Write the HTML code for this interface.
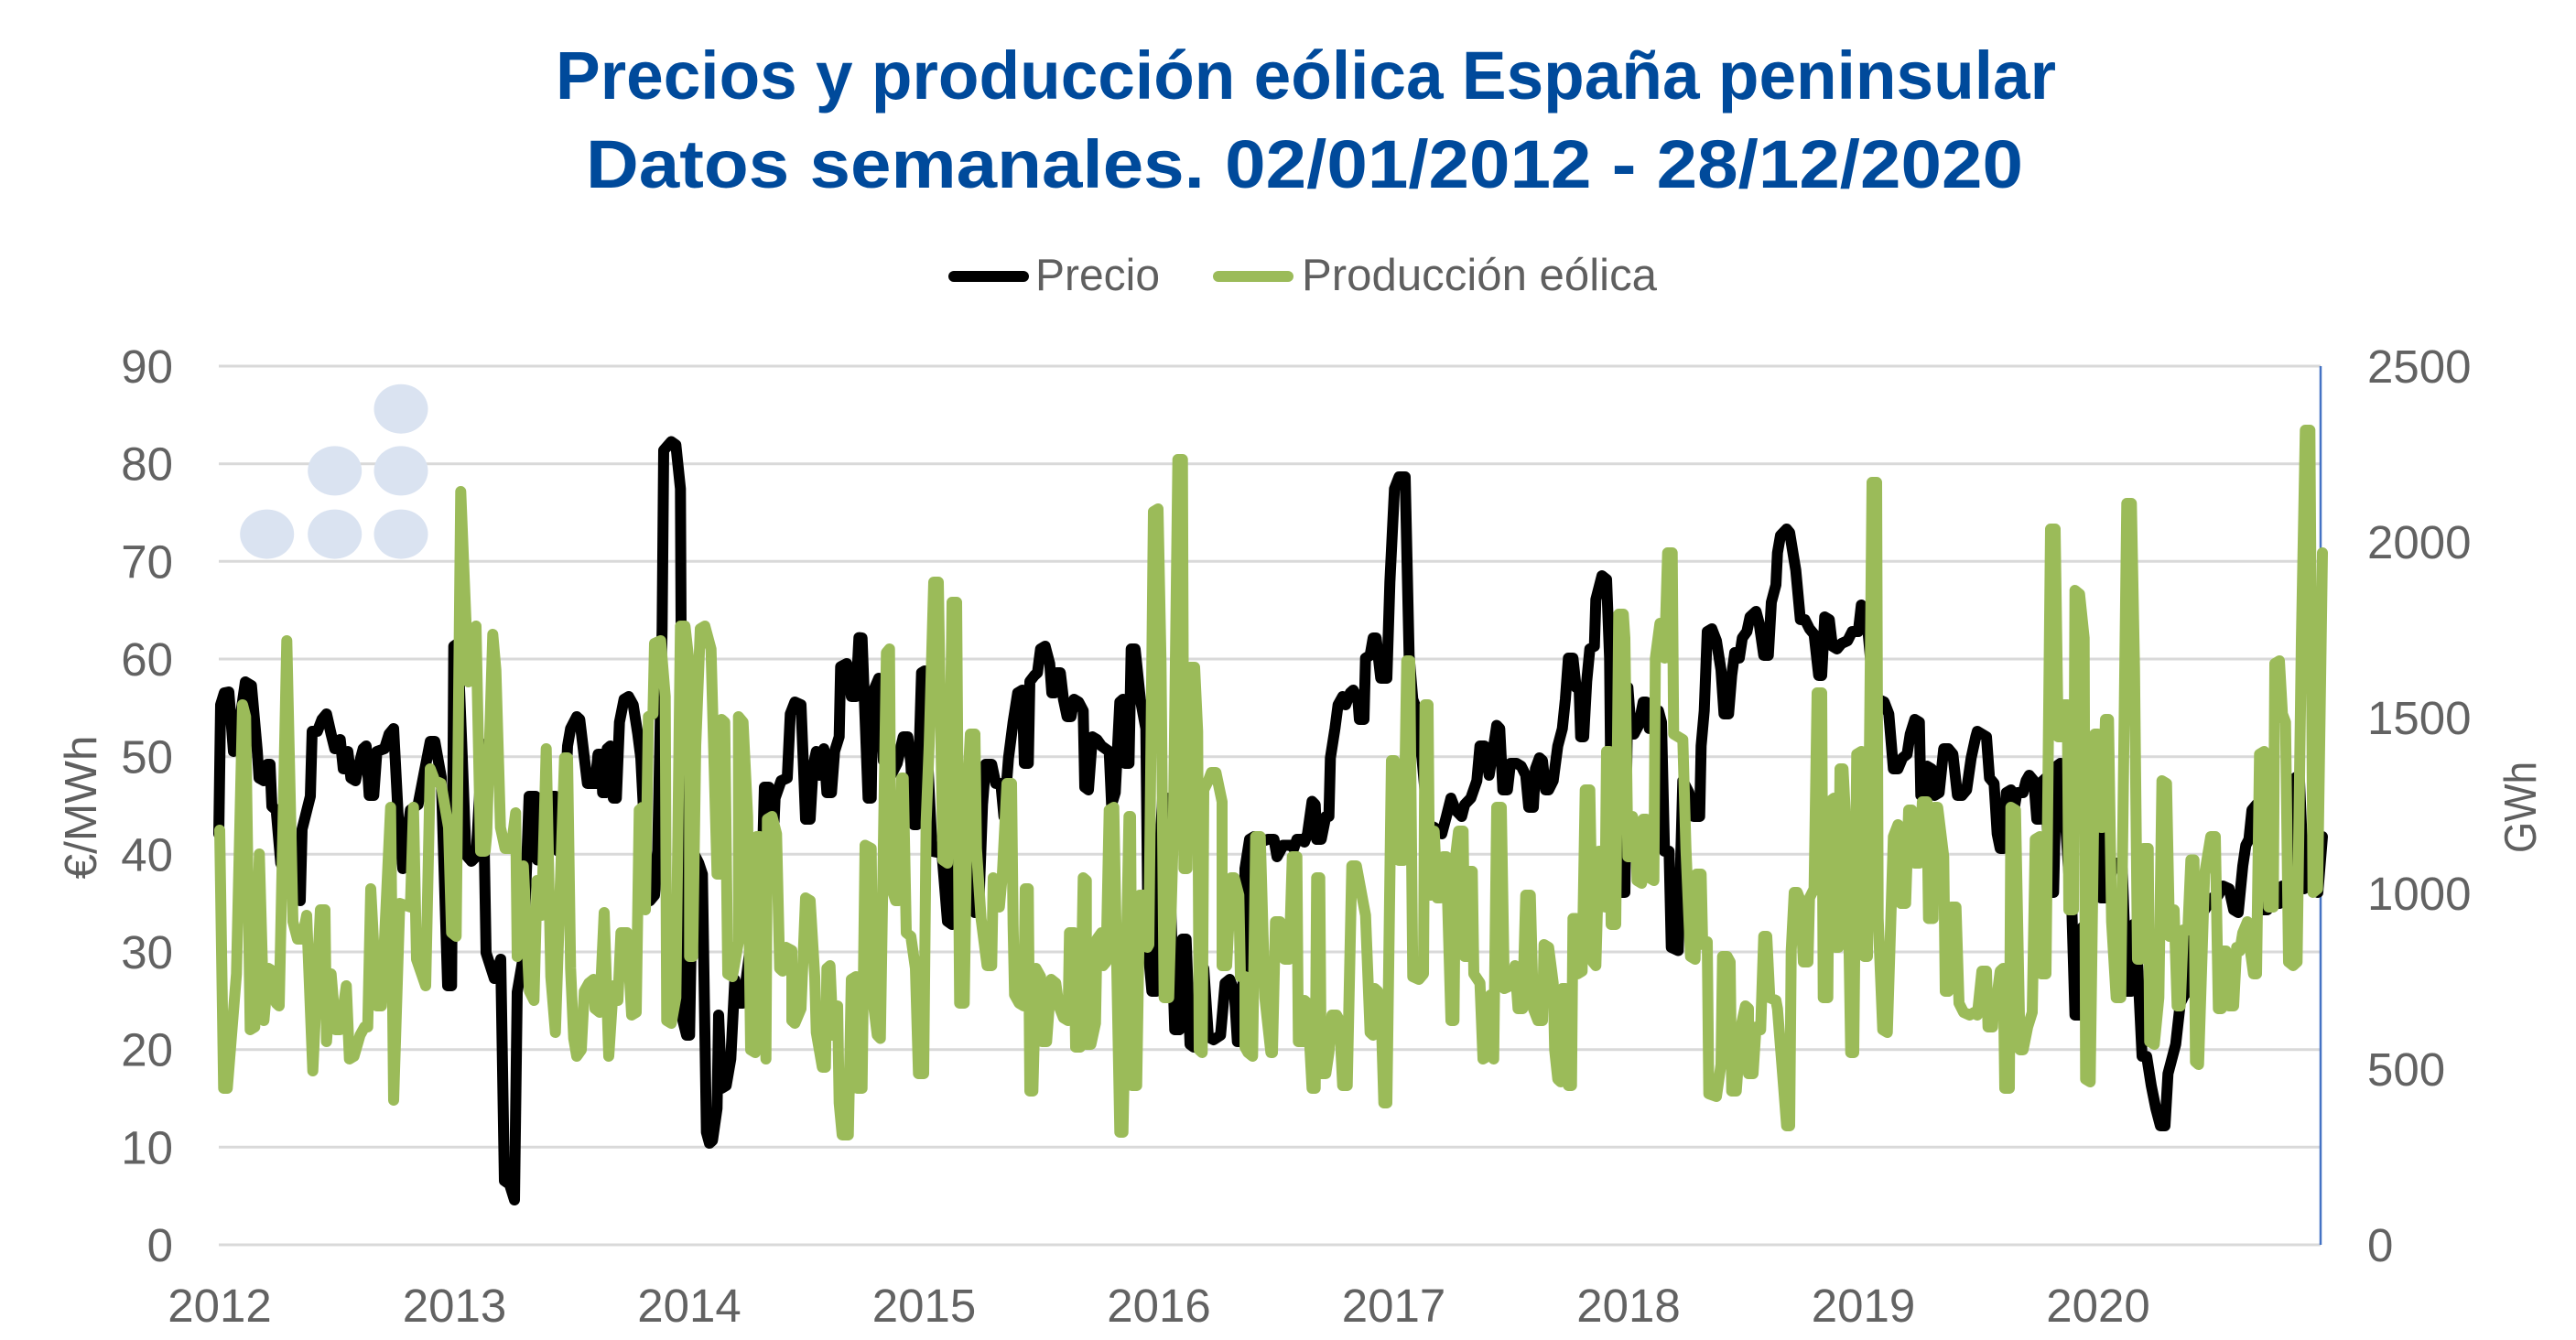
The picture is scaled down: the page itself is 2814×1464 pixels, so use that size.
<!DOCTYPE html>
<html>
<head>
<meta charset="utf-8">
<style>
  html, body { margin:0; padding:0; background:#ffffff; }
  svg { display:block; }
  .tick { font-family:"Liberation Sans", sans-serif; font-size:51px; fill:#626262; }
  .leg { font-family:"Liberation Sans", sans-serif; font-size:49px; fill:#5f5f5f; }
  .ttl { font-family:"Liberation Sans", sans-serif; font-size:74px; font-weight:bold; fill:#004a9b; }
  .blk { fill:none; stroke:#000000; stroke-width:12; stroke-linejoin:round; stroke-linecap:round; }
  .grn { fill:none; stroke:#9bbb59; stroke-width:12; stroke-linejoin:round; stroke-linecap:round; }
</style>
</head>
<body>
<svg width="2814" height="1464" viewBox="0 0 2814 1464" xmlns="http://www.w3.org/2000/svg">
  <rect x="0" y="0" width="2814" height="1464" fill="#ffffff"/>

  <!-- Title -->
  <text class="ttl" x="607" y="108" textLength="1639" lengthAdjust="spacingAndGlyphs">Precios y producción eólica España peninsular</text>
  <text class="ttl" x="640" y="205" textLength="1570" lengthAdjust="spacingAndGlyphs">Datos semanales. 02/01/2012 - 28/12/2020</text>

  <!-- Legend -->
  <line x1="1042" y1="302" x2="1118" y2="302" stroke="#000" stroke-width="12" stroke-linecap="round"/>
  <text class="leg" x="1131" y="317" textLength="136" lengthAdjust="spacingAndGlyphs">Precio</text>
  <line x1="1331" y1="302" x2="1407" y2="302" stroke="#9bbb59" stroke-width="12" stroke-linecap="round"/>
  <text class="leg" x="1422" y="317" textLength="388" lengthAdjust="spacingAndGlyphs">Producción eólica</text>

  <!-- Gridlines -->
  <g stroke="#d9d9d9" stroke-width="3">
    <line x1="239" y1="400" x2="2535" y2="400"/>
    <line x1="239" y1="506.7" x2="2535" y2="506.7"/>
    <line x1="239" y1="613.3" x2="2535" y2="613.3"/>
    <line x1="239" y1="720" x2="2535" y2="720"/>
    <line x1="239" y1="826.7" x2="2535" y2="826.7"/>
    <line x1="239" y1="933.3" x2="2535" y2="933.3"/>
    <line x1="239" y1="1040" x2="2535" y2="1040"/>
    <line x1="239" y1="1146.7" x2="2535" y2="1146.7"/>
    <line x1="239" y1="1253.3" x2="2535" y2="1253.3"/>
    <line x1="239" y1="1360" x2="2535" y2="1360"/>
  </g>
  <line x1="2535" y1="400" x2="2535" y2="1360" stroke="#4472c4" stroke-width="2.5"/>

  <!-- Left tick labels -->
  <g class="tick" text-anchor="end">
    <text x="189" y="418">90</text>
    <text x="189" y="524.7">80</text>
    <text x="189" y="631.3">70</text>
    <text x="189" y="738">60</text>
    <text x="189" y="844.7">50</text>
    <text x="189" y="951.3">40</text>
    <text x="189" y="1058">30</text>
    <text x="189" y="1164.7">20</text>
    <text x="189" y="1271.3">10</text>
    <text x="189" y="1378">0</text>
  </g>
  <!-- Right tick labels -->
  <g class="tick" text-anchor="start">
    <text x="2586" y="418">2500</text>
    <text x="2586" y="610">2000</text>
    <text x="2586" y="802">1500</text>
    <text x="2586" y="994">1000</text>
    <text x="2586" y="1186">500</text>
    <text x="2586" y="1378">0</text>
  </g>
  <!-- X labels -->
  <g class="tick" text-anchor="middle">
    <text x="240" y="1444">2012</text>
    <text x="496.5" y="1444">2013</text>
    <text x="753" y="1444">2014</text>
    <text x="1009.5" y="1444">2015</text>
    <text x="1266" y="1444">2016</text>
    <text x="1522.5" y="1444">2017</text>
    <text x="1779" y="1444">2018</text>
    <text x="2035.5" y="1444">2019</text>
    <text x="2292" y="1444">2020</text>
  </g>
  <!-- Axis titles -->
  <text class="leg" text-anchor="middle" transform="translate(105,882) rotate(-90)" textLength="157" lengthAdjust="spacingAndGlyphs">€/MWh</text>
  <text class="leg" text-anchor="middle" transform="translate(2770,882) rotate(-90)" textLength="100" lengthAdjust="spacingAndGlyphs">GWh</text>

  <!-- Logo dots -->
  <g fill="#dae3f1">
    <ellipse cx="291.7" cy="583.6" rx="29.5" ry="27"/>
    <ellipse cx="365.7" cy="583.6" rx="29.5" ry="27"/>
    <ellipse cx="438" cy="583.6" rx="29.5" ry="27"/>
    <ellipse cx="365.7" cy="514.4" rx="29.5" ry="27"/>
    <ellipse cx="438" cy="514.4" rx="29.5" ry="27"/>
    <ellipse cx="438" cy="446.7" rx="29.5" ry="27"/>
  </g>

  <!-- PRECIO (black) -->
  <polyline class="blk" points="239,911 241,770 245,757 250,756 255,821 257.7,806 261.7,789 268,745 274.7,749 281,820 283,850 288.3,853 292,835 295,835 297,881 301.7,885 306.7,943 312,955 318.3,930 325,981 328,984 330,906 339,870 341,799 346.7,799 351.7,786 356.7,780 361.7,802 365.7,818 371.7,808 375,840 380,821 383.3,850 388.3,853 391.7,837 396.7,818 400,815 403.3,869 408.3,869 411.7,821 420,818 425,802 430,796 435,892 440,949 448.3,885 456.7,879 461.7,853 470,810 475,810 482,849 489,1077 493.3,1077 495.7,706 500,703 505,828 509,934 515,941 520,936 527,813 531,1041 540,1069 547,1048 551,1290 556.7,1294 562,1311 565,1084 571.7,1045 578,870 585,870 587,939.5 591.7,940 595,870 606.7,870 610,930 615,923.5 620,815 623.3,796 630,783 633.3,786 641.7,856 650,856 653.3,824 656.7,824 658.3,866 661.7,866 663.3,818 666.7,815 670,872 673.3,872 676.7,789 681.7,764 686.7,761 691.7,770 696.7,802 700,828 703.3,892 710,984 715,978 718.3,936 723.3,687 725,492 733.3,482.5 738.3,486 743.3,534 746,1115 750,1131 753.3,1131 756.7,930 763.3,943 767.3,955 771.7,1237 775,1249 778.3,1246 783.3,1211 785,1109 788.3,1189 793.3,1186 798.3,1157 802.7,1070.5 808.3,1096 811.7,1096 821.7,1019 830,1045 835,860 840,860 845,911 846.7,872 853.3,853 860,850 863.3,780 868.3,767 875,770 880,895 885,895 888.3,837 891.7,821 895,847 900,818 903.3,866 908.3,866 911.7,821 916.7,805 918.3,728.5 925,725 930,761 935,761 938.3,696.6 941.7,697 948.3,872 951.7,872 953.3,757 960,741 965,831 970,834 973.3,847 980,834 986.7,805 991.7,805 995,834 998.3,901 1001.7,901 1006.7,735 1010,733 1013.3,828 1018.3,930 1023.3,931 1028.3,923.5 1035,1006.6 1040,1010 1043.3,872 1050,872 1055,892 1061.7,936 1065,997 1069,997 1073.3,879 1076.7,835 1083.3,835 1087.7,856 1093.3,856 1096.7,892 1101.7,828 1106.7,789 1111.7,757 1116.7,754 1119,834 1123.3,834 1125,744.5 1130,738 1133.3,735 1136.7,709 1141.7,706 1146.7,725 1149,757 1152.3,757 1154.3,735 1158.3,735 1161.7,764 1165.7,783 1170,783 1173.3,764 1178.3,767 1183.3,776.5 1185,860 1189,863 1193.3,805 1198.3,808 1203.3,815 1211.7,821 1214.3,879 1218.3,866 1223.3,767 1226.7,764 1229,834 1233.3,834 1235.7,709 1240,709 1245.7,764 1251.7,796 1254.3,1038.5 1258.3,1083 1263.3,1083 1265.7,955 1270,872 1275,872 1283.3,1125 1288.3,1125 1291.7,1026 1295.7,1026 1300,1141 1304,1144 1308.3,1128 1315,1058 1320,1133 1325.7,1136 1333.3,1131 1338.3,1074 1343.3,1070 1348.3,1083 1351.7,1138 1356.7,1138 1360,949 1365,917 1370,914 1376.7,920 1385,917 1391.7,917 1395,936 1398.3,930 1401.7,923.5 1410,923.5 1413.3,927 1416.7,917 1421.7,917 1425,920 1428.3,911 1433.3,875.5 1436.7,879 1438.3,917 1443.3,917 1448.3,892 1451.7,892 1453.3,828 1458.3,796 1461.7,770 1466.7,761 1470,770 1475,757 1478.3,754 1483.3,764 1485,786 1490,786 1491.7,719 1496.7,716 1500,697 1503.3,697 1508.3,741 1515,741 1518.3,636 1523.3,534 1528.3,521 1535,521 1539.3,716 1543.3,764 1546.7,773 1553.3,828 1560,901 1566.7,904 1575,911 1580,892 1585,872 1590,885 1596.7,892 1600,879 1606.7,872 1613.3,853 1616.7,815 1621.7,815 1626.7,847 1631.7,815 1635,792.5 1638.3,796 1641.7,863 1646.7,863 1650,834 1656.7,834 1661.7,837 1666.7,847 1670,882 1675,882 1677.3,840 1681.7,828 1685,831 1688.3,863 1691.7,863 1696.7,853 1701.7,815 1706.7,796 1710,764 1713.3,719 1718.3,719 1721.7,751 1725,751 1726.7,805 1730,805 1733.3,744.5 1736.7,709 1741.7,706 1743.3,655 1750,629 1755,633 1758.3,719 1760.7,968 1765,975 1771.7,975 1775,975 1778.3,751 1781.7,796 1785,802 1790,792.5 1795,767 1798.3,767 1801.7,796 1806.7,796 1811.7,776.5 1815,789 1818.3,930 1823.3,930 1825.7,1035 1833.3,1038.5 1838.3,853 1845,866 1850,892 1856.7,892 1858.3,815 1861.7,776.5 1865,690 1870,687 1875,700 1880,732 1883.3,780 1888.3,780 1891.7,738 1895,713 1900,719 1903.3,697 1908.3,690 1911.7,674 1918.3,668 1921.7,681 1926.7,716 1931.7,716 1935,658 1940,639 1941.7,604 1945,585 1951.7,578 1955,582 1961.7,623 1966.7,677 1971.7,677 1976.7,687 1981.7,693 1986.7,738 1990,738 1993.3,674 1998.3,677 2001.7,706 2006.7,709 2011.7,703 2018.3,700 2023.3,690 2030,690 2033.3,661 2038.3,665 2046.7,757 2051.7,764 2058.3,767 2063.3,780 2068.3,840 2073.3,840 2078.3,828 2083.3,824 2086.7,802 2091.7,786 2096.7,789 2098.3,869 2103.3,869 2105,837 2110,840 2113.3,869 2118.3,866 2123.3,818 2128.3,818 2133.3,824 2138.3,869 2143.3,869 2148.3,863 2153.3,828 2158.3,805 2160,799 2165,802 2170,805 2173.3,850 2178.3,856 2181.7,911 2185,927 2188.3,927 2191.7,866 2196.7,863 2200,885 2203.3,866 2210,866 2213.3,853 2216.7,847 2221.7,853 2225,895 2228.3,895 2231.7,853 2235,850 2238.3,975 2243.3,975 2246.7,837 2250.7,834 2255,879 2260,955 2263.3,994 2266.7,1109 2271.7,1109 2275,1013 2278.3,1013 2281.7,904 2286.7,904 2293.3,901 2295,981 2300,981 2306.7,952 2310,943 2314,943 2318.3,949 2323.3,1083 2328.3,1083 2330.7,1010 2335,1051 2340,1154 2345,1154 2350,1186 2355,1211 2360,1230 2365,1230 2368.3,1173 2373.3,1154 2376.7,1141 2381.7,1096 2386.7,1086 2391.7,1083 2396.7,994 2401.7,991 2408.3,994 2416.7,981 2423.3,978 2428.3,968 2435,971 2440,994 2445,997 2450,946 2453.3,923.5 2456.7,917 2460,885 2465,879 2468.3,955 2471.7,994 2476.7,994 2480,981 2485,984 2490,987 2493.3,968 2496.7,971 2503,971 2507,850 2511.7,847 2517,971 2525,955 2532,975 2537,914"/>

  <!-- PRODUCCION EOLICA (green) -->
  <polyline class="grn" points="240,907 244.3,1189 248.3,1189 258.3,1064 265,770 268.3,783 273.3,1125 278.3,1122 283.3,933 288.3,1115 293.3,1058 298.3,1061 301.7,1096 305,1099 313.3,700 320,1007 325,1026 330,1026 335,1000 341.7,1170 350,994 355,994 356.7,1138 361.7,1064 366.7,1125 371.7,1125 378.3,1077 381.7,1157 386.7,1154 393.3,1131 398.3,1122 401.7,1122 405,971 411.7,1099 416.7,1099 426.7,882 430,1202 436.7,987 448.3,991 451.7,882 455,1048 465,1077 470,840 475,853 481.7,856 490,904 493.3,1019 498.3,1023 503.3,537 511.7,745 520,684 525,930 530,930 531.7,911 538.3,693 541.7,732 546.7,904 551.7,927 558.3,927 563.3,888 565,1045 571.7,946 578.3,1083 583.3,1093 586.7,962 591.7,1000 596.7,818 601.7,1067 606.7,1128 616.7,828 620,828 623.3,1058 626.7,1134.5 630,1154 635,1147 638.3,1083 643.3,1074 648.3,1070 650,1102 655,1106 660,997 665,1154 670,1077 675,1093 678.3,1019 685,1019 690,1109 695,1106 698.3,885 701.7,882 705,994 708.3,783 713.3,780 715,703 721.7,700 726.7,761 728.3,1115 733.3,1118 738.3,1090 743.3,684 748.3,684 753.3,729 753.3,1045 756.7,1045 760,815 765,687 770,684 776.7,709 783.3,955 786.7,955 788.3,786 791.7,789 795,1064 800,1067 806.7,1029 806.7,783 811.7,789 816.7,892 820,1147 825,1150 826.7,914 830,914 836.7,1157 838.3,895 843.3,892 848.3,911 851.7,1058 855,1061 858.3,1035 865,1038.5 865,1115 868.3,1118 875,1102 880,981 885,984 890,1067 891.7,1128 898.3,1166 901.7,1166 903.3,1058 906.7,1055 910,1131 915,1099 916.7,1205 920,1240 926.7,1240 930,1070 935,1067 936.7,1189 941.7,1189 945,923.5 951.7,927 953.3,1090 958.3,1131 961.7,1134.5 968.3,713 971.7,709 973.3,968 978.3,984 981.7,984 985,850 986.7,850 990,1019 995,1023 1000,1058 1003.3,1173 1009,1173 1011.7,898 1015,815 1020,636 1025,636 1030,939.5 1035,943 1038.3,789 1040,658 1045,658 1048.3,1096 1053.3,1096 1056.7,866 1060,802 1065,802 1066.7,927 1071.7,1003.5 1078.3,1055 1083.3,1055 1085,959 1091.7,991 1095,955 1100,856 1105,856 1106.7,1010 1108.3,1087 1113.3,1096 1118.3,1099 1120,971 1123.3,971 1125,1192 1128.3,1192 1131.7,1058 1136.7,1067 1138.3,1138 1143.3,1138 1148.3,1070 1153.3,1074 1156.7,1099 1161.7,1112 1166.7,1115 1168.3,1019 1173.3,1019 1175,1144 1180,1144 1183.3,959 1186.7,962 1186.7,1141 1191.7,1141 1196.7,1118 1198.3,1026 1203.3,1019 1205,1055 1208.3,1051 1211.7,885 1216.7,882 1223.3,1237 1226.7,1237 1233.3,892 1235,892 1236.7,1186 1241.7,1186 1245,978 1250,978 1253.3,1035 1255,1032 1260,559 1265,556 1268.3,725 1271.7,1090 1276.7,1090 1281.7,911 1286.7,502 1291.7,502 1293.3,949 1296.7,949 1300,729 1305,729 1308.3,799 1310,1147 1313.3,1150 1315,863 1320,853 1323.3,844 1328.3,844 1335,876 1335,1055 1340,1055 1345,959 1348.3,959 1353.3,978 1355,1067 1360,1067 1360,1144 1363.3,1150 1368.3,1154 1371.7,914 1376.7,914 1381.7,1090 1388.3,1150 1390,1150 1393.3,1007 1398.3,1007 1403.3,1048 1408.3,1048 1411.7,936 1416.7,936 1418.3,1138 1423.3,1138 1425,1093 1428.3,1096 1433.3,1189 1436.7,1189 1438.3,959 1441.7,959 1443.3,1173 1448.3,1173 1451.7,1150 1455,1109 1460,1109 1463.3,1115 1466.7,1186 1471.7,1186 1476.7,946 1481.7,946 1491.7,1000 1496.7,1128 1500,1131 1501.7,1080 1505,1083 1508.3,1093 1511.7,1205 1515,1205 1520,831 1523.3,831 1528.3,940 1533.3,940 1536.7,722 1540,722 1543.3,1067 1550,1070 1555,1064 1556.7,770 1560,770 1561.7,978 1563.3,978 1566.7,908 1570,981 1573.3,981 1576.7,936 1580,936 1585,1115 1588.3,1115 1590,936 1593.3,908 1598.3,908 1600,1045 1603.3,1045 1605,952 1608.3,952 1610,1064 1616.7,1074 1620,1157 1625,1154 1628.3,1087 1631.7,1157 1635,882 1640,882 1643.3,1080 1650,1077 1655,1055 1658.3,1102 1663.3,1102 1666.7,978 1671.7,978 1675,1102 1680,1115 1685,1115 1686.7,1032 1691.7,1035 1696.7,1074 1698.3,1147 1701.7,1179 1705,1182 1706.7,1080 1710,1080 1713.3,1186 1716.7,1186 1718.3,1003.5 1721.7,1003.5 1723.3,1064 1728.3,1061 1731.7,863 1736.7,863 1740,1051 1743.3,1055 1746.7,930 1750,930 1753.3,991 1755,821 1758.3,821 1760,1010 1765,1010 1768.3,671 1773.3,671 1775,697 1778.3,936 1781.7,936 1783.3,892 1786.7,904 1788.3,962 1793.3,965 1795,895 1798.3,895 1801.7,959 1806.7,962 1808.3,719 1813.3,681 1816.7,681 1818.3,719 1821.7,604 1826.7,604 1828.3,802 1833.3,805 1838.3,808 1841.7,927 1846.7,1045 1851.7,1048 1853.3,955 1858.3,955 1860,1032 1865,1029 1866.7,1195 1875,1198 1880,1163 1881.7,1045 1886.7,1045 1890,1051 1891.7,1192 1896.7,1192 1901.7,1122 1906.7,1099 1910,1102 1910,1173 1915,1173 1918.3,1122 1923.3,1125 1926.7,1023 1930,1023 1933.3,1090 1940,1093 1941.7,1102 1948.3,1186 1951.7,1230 1955,1230 1956.7,1039 1960,975 1963.3,975 1966.7,984 1970,1051 1975,1051 1976.7,981 1981.7,971 1985,757 1990,757 1991.7,1090 1996.7,1090 1998.3,876 2003.3,872 2005,1035 2008.3,1035 2010,840 2013.3,840 2018.3,936 2021.7,1150 2025,1150 2028.3,824 2033.3,821 2036.7,1045 2040,1045 2045,527 2050,527 2051.7,1003.5 2056.7,1125 2061.7,1128 2068.3,914 2073.3,901 2076.7,987 2081.7,987 2085,885 2088.3,885 2091.7,943 2096.7,943 2100,876 2105,876 2106.7,1003.5 2111.7,1003.5 2113.3,882 2116.7,882 2123.3,936 2125,1083 2128.3,1083 2131.7,991 2136.7,991 2140,1096 2145,1106 2151.7,1109 2156.7,1106 2160,1109 2165,1061 2170,1061 2171.7,1122 2176.7,1122 2178.3,1087 2181.7,1087 2185,1061 2188.3,1058 2190,1189 2195,1189 2196.7,882 2201.7,885 2206.7,1147 2210,1147 2215,1122 2220,1106 2223.3,917 2228.3,914 2230,1064 2235,1064 2240,578 2245,578 2248.3,805 2253.3,805 2255,770 2258.3,770 2260,994 2265,994 2266.7,645 2271.7,649 2276.7,697 2278.3,1179 2283.3,1182 2288.3,802 2291.7,802 2295,904 2296.7,904 2300,786 2303.3,786 2306.7,1007 2311.7,1090 2316.7,1090 2323.3,550 2328.3,550 2331.7,729 2335,1048 2338.3,1048 2341.7,927 2346.7,927 2348.3,1138 2353.3,1141 2358.3,1090 2361.7,853 2366.7,856 2370,1023 2375,994 2378.3,1099 2381.7,1099 2385,1016 2390,1016 2393.3,939.5 2396.7,939.5 2398.3,1160 2401.7,1163 2408.3,955 2415,914 2420,914 2423.3,1102 2426.7,1102 2428.3,1039 2431.7,1039 2435,1099 2440,1099 2443.3,1035 2446.7,1039 2450,1019 2455,1007 2458.3,1039 2461.7,1064 2465,1064 2468.3,824 2473.3,821 2478.3,991 2483.3,991 2485,725 2490,722 2493.3,780 2496.7,789 2500,1051 2505,1055 2509.3,1051 2514,700 2518.3,470 2523.3,470 2526.7,975 2531.7,971 2537,604"/>
</svg>
</body>
</html>
